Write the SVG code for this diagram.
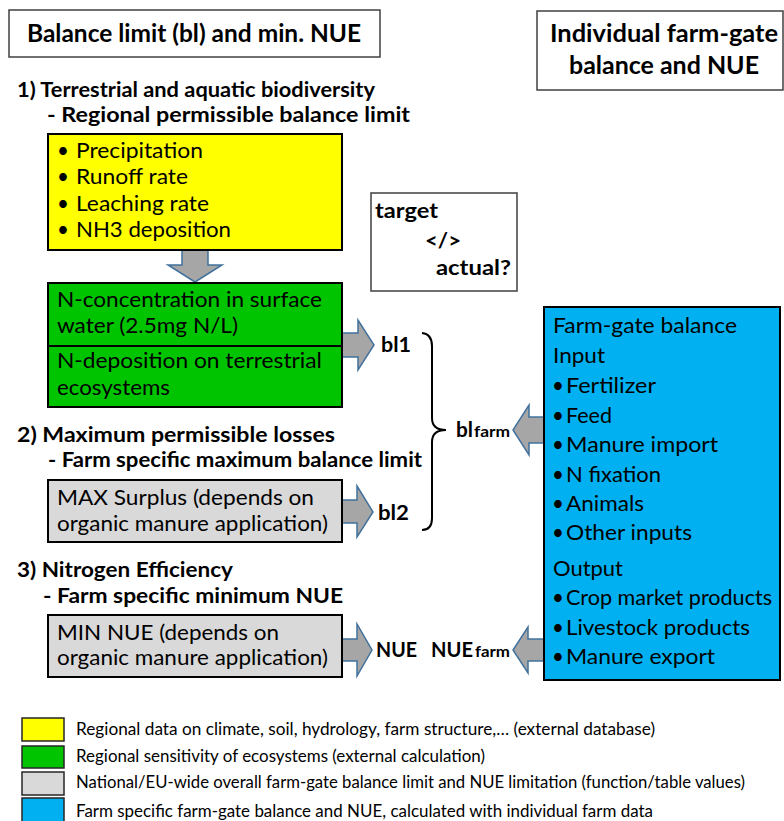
<svg xmlns="http://www.w3.org/2000/svg" width="784" height="821" viewBox="0 0 784 821">
  <style>
    text { font-family: Lato, "Liberation Sans", sans-serif; fill: #000; }
    .title { font-size: 24px; font-weight: 700; }
    .head { font-size: 21px; font-weight: 700; }
    .body { font-size: 20.5px; }
    .lbl { font-size: 21px; font-weight: 700; }
    .sub { font-size: 15.5px; font-weight: 700; }
    .leg { font-size: 17px; }
    .frame { fill: #fff; stroke: #404040; stroke-width: 1.5; }
    .box { stroke: #000; stroke-width: 2; }
    .yellow { fill: #ffff00; }
    .green { fill: #00c400; }
    .gray { fill: #d9d9d9; }
    .blue { fill: #00b0f0; }
    .arrow { fill: #a6a6a6; stroke: #41719c; stroke-width: 1.5; stroke-linejoin: miter; }
    .brace { fill: none; stroke: #000; stroke-width: 2; }
    .sw { stroke: #262626; stroke-width: 1.5; }
  </style>

  <rect width="784" height="821" fill="#fff"/>

  <!-- connectors: block arrows and brace -->
  <g id="connectors">
    <polygon class="arrow" points="182,249 208,249 208,265 222,265 195,282 168,265 182,265"/>
    <polygon class="arrow" points="341,333 358,333 358,320 374,345 358,370 358,357 341,357"/>
    <polygon class="arrow" points="341,500 357,500 357,486 373,512 357,537 357,523 341,523"/>
    <polygon class="arrow" points="341,639 357,639 357,624 372,650 357,676 357,661 341,661"/>
    <polygon class="arrow" points="546,417 529,417 529,405 513,430 529,455 529,443 546,443"/>
    <polygon class="arrow" points="546,639 528,639 528,627 513,650 528,673 528,661 546,661"/>
    <path class="brace" d="M422,333 Q432,334 432,346 L432,418 Q432,430 446,430 Q432,430 432,442 L432,518 Q432,530 422,530"/>
  </g>

  <!-- headers -->
  <g id="header-left">
    <rect class="frame" x="9" y="10" width="371" height="47"/>
    <text class="title" x="27" y="42" textLength="334" lengthAdjust="spacingAndGlyphs">Balance limit (bl) and min. NUE</text>
  </g>
  <g id="header-right">
    <rect class="frame" x="537" y="11" width="246" height="79"/>
    <text class="title" x="550" y="42" textLength="228" lengthAdjust="spacingAndGlyphs">Individual farm-gate</text>
    <text class="title" x="569" y="74" textLength="190" lengthAdjust="spacingAndGlyphs">balance and NUE</text>
  </g>

  <!-- section headings -->
  <g id="section-1">
    <text class="head" x="17" y="97" textLength="358" lengthAdjust="spacingAndGlyphs">1) Terrestrial and aquatic biodiversity</text>
    <text class="head" x="47" y="122" textLength="363" lengthAdjust="spacingAndGlyphs">- Regional permissible balance limit</text>
  </g>

  <g id="regional-data">
    <rect class="box yellow" x="48" y="134" width="294" height="116"/>
    <text class="body" x="57" y="158">•</text>
    <text class="body" x="76" y="158" textLength="127" lengthAdjust="spacingAndGlyphs">Precipitation</text>
    <text class="body" x="57" y="184">•</text>
    <text class="body" x="76" y="184" textLength="112" lengthAdjust="spacingAndGlyphs">Runoff rate</text>
    <text class="body" x="57" y="211">•</text>
    <text class="body" x="76" y="211" textLength="133" lengthAdjust="spacingAndGlyphs">Leaching rate</text>
    <text class="body" x="57" y="237">•</text>
    <text class="body" x="76" y="237" textLength="155" lengthAdjust="spacingAndGlyphs">NH3 deposition</text>
  </g>

  <g id="target-actual">
    <rect class="frame" x="371" y="193" width="146" height="98"/>
    <text class="lbl" x="375" y="218" textLength="63" lengthAdjust="spacingAndGlyphs">target</text>
    <text class="lbl" x="425" y="248" textLength="36" lengthAdjust="spacingAndGlyphs">&lt;/&gt;</text>
    <text class="lbl" x="436" y="275" textLength="75" lengthAdjust="spacingAndGlyphs">actual?</text>
  </g>

  <g id="surface-water">
    <rect class="box green" x="48" y="283" width="294" height="63"/>
    <text class="body" x="57" y="307" textLength="265" lengthAdjust="spacingAndGlyphs">N-concentration in surface</text>
    <text class="body" x="57" y="333" textLength="181" lengthAdjust="spacingAndGlyphs">water (2.5mg N/L)</text>
  </g>
  <g id="terrestrial-deposition">
    <rect class="box green" x="48" y="346" width="294" height="61"/>
    <text class="body" x="57" y="368" textLength="265" lengthAdjust="spacingAndGlyphs">N-deposition on terrestrial</text>
    <text class="body" x="57" y="395" textLength="113" lengthAdjust="spacingAndGlyphs">ecosystems</text>
  </g>

  <g id="bl1"><text class="lbl" x="381" y="352" textLength="30" lengthAdjust="spacingAndGlyphs">bl1</text></g>

  <g id="section-2">
    <text class="head" x="17" y="442" textLength="318" lengthAdjust="spacingAndGlyphs">2) Maximum permissible losses</text>
    <text class="head" x="48" y="467" textLength="374" lengthAdjust="spacingAndGlyphs">- Farm specific maximum balance limit</text>
  </g>

  <g id="bl-farm">
    <text class="lbl" x="456" y="437" textLength="17" lengthAdjust="spacingAndGlyphs">bl</text>
    <text class="sub" x="474" y="437" textLength="36" lengthAdjust="spacingAndGlyphs">farm</text>
  </g>

  <g id="max-surplus">
    <rect class="box gray" x="48" y="480" width="294" height="62"/>
    <text class="body" x="57" y="505" textLength="257" lengthAdjust="spacingAndGlyphs">MAX Surplus (depends on</text>
    <text class="body" x="57" y="531" textLength="271" lengthAdjust="spacingAndGlyphs">organic manure application)</text>
  </g>

  <g id="bl2"><text class="lbl" x="378" y="520" textLength="31" lengthAdjust="spacingAndGlyphs">bl2</text></g>

  <g id="section-3">
    <text class="head" x="17" y="577" textLength="216" lengthAdjust="spacingAndGlyphs">3) Nitrogen Efficiency</text>
    <text class="head" x="43" y="603" textLength="300" lengthAdjust="spacingAndGlyphs">- Farm specific minimum NUE</text>
  </g>

  <g id="min-nue">
    <rect class="box gray" x="48" y="615" width="294" height="62"/>
    <text class="body" x="57" y="640" textLength="222" lengthAdjust="spacingAndGlyphs">MIN NUE (depends on</text>
    <text class="body" x="57" y="665" textLength="271" lengthAdjust="spacingAndGlyphs">organic manure application)</text>
  </g>

  <g id="nue"><text class="lbl" x="376" y="657" textLength="41" lengthAdjust="spacingAndGlyphs">NUE</text></g>
  <g id="nue-farm">
    <text class="lbl" x="431" y="657" textLength="42" lengthAdjust="spacingAndGlyphs">NUE</text>
    <text class="sub" x="475" y="657" textLength="35" lengthAdjust="spacingAndGlyphs">farm</text>
  </g>

  <g id="farm-gate-balance">
    <rect class="box blue" x="544" y="307" width="236" height="373"/>
    <text class="body" x="553" y="333" textLength="184" lengthAdjust="spacingAndGlyphs">Farm-gate balance</text>
    <text class="body" x="553" y="363" textLength="52" lengthAdjust="spacingAndGlyphs">Input</text>
    <text class="body" x="552" y="393">•</text>
    <text class="body" x="566" y="393" textLength="90" lengthAdjust="spacingAndGlyphs">Fertilizer</text>
    <text class="body" x="552" y="423">•</text>
    <text class="body" x="566" y="423" textLength="46" lengthAdjust="spacingAndGlyphs">Feed</text>
    <text class="body" x="552" y="452">•</text>
    <text class="body" x="566" y="452" textLength="152" lengthAdjust="spacingAndGlyphs">Manure import</text>
    <text class="body" x="552" y="482">•</text>
    <text class="body" x="566" y="482" textLength="95" lengthAdjust="spacingAndGlyphs">N fixation</text>
    <text class="body" x="552" y="511">•</text>
    <text class="body" x="566" y="511" textLength="78" lengthAdjust="spacingAndGlyphs">Animals</text>
    <text class="body" x="552" y="540">•</text>
    <text class="body" x="566" y="540" textLength="126" lengthAdjust="spacingAndGlyphs">Other inputs</text>
    <text class="body" x="553" y="576" textLength="70" lengthAdjust="spacingAndGlyphs">Output</text>
    <text class="body" x="552" y="605">•</text>
    <text class="body" x="566" y="605" textLength="206" lengthAdjust="spacingAndGlyphs">Crop market products</text>
    <text class="body" x="552" y="635">•</text>
    <text class="body" x="566" y="635" textLength="184" lengthAdjust="spacingAndGlyphs">Livestock products</text>
    <text class="body" x="552" y="664">•</text>
    <text class="body" x="566" y="664" textLength="149" lengthAdjust="spacingAndGlyphs">Manure export</text>
  </g>

  <!-- colour key -->
  <g id="legend">
    <rect class="sw yellow" x="22" y="718" width="42" height="23"/>
    <text class="leg" x="76" y="735" textLength="579" lengthAdjust="spacingAndGlyphs">Regional data on climate, soil, hydrology, farm structure,… (external database)</text>
    <rect class="sw green" x="22" y="746" width="42" height="22"/>
    <text class="leg" x="76" y="762" textLength="409" lengthAdjust="spacingAndGlyphs">Regional sensitivity of ecosystems (external calculation)</text>
    <rect class="sw gray" x="22" y="772" width="42" height="23"/>
    <text class="leg" x="76" y="788" textLength="669" lengthAdjust="spacingAndGlyphs">National/EU-wide overall farm-gate balance limit and NUE limitation (function/table values)</text>
    <rect class="sw blue" x="22" y="798" width="42" height="26"/>
    <text class="leg" x="76" y="817" textLength="577" lengthAdjust="spacingAndGlyphs">Farm specific farm-gate balance and NUE, calculated with individual farm data</text>
  </g>
</svg>
